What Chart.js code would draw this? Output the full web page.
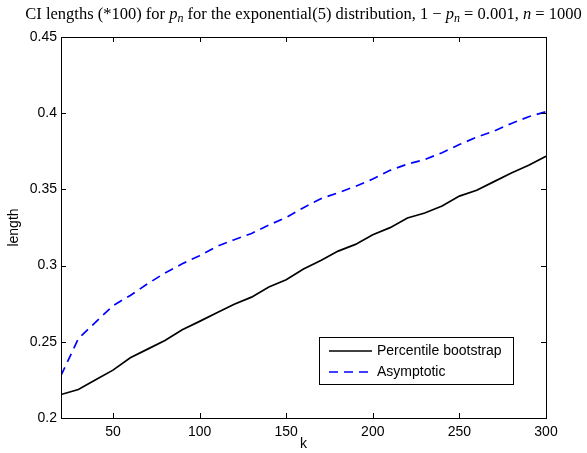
<!DOCTYPE html>
<html>
<head>
<meta charset="utf-8">
<script src="https://cdn.jsdelivr.net/npm/chart.js@4/dist/chart.umd.min.js"></script>
<style>
  html, body { margin: 0; padding: 0; background: #fff; }
  #wrap { width: 587px; height: 453px; }
</style>
</head>
<body>
<div id="wrap"><canvas id="c" width="587" height="453"></canvas></div>
<script>
// k values (number of upper order statistics)
const kValues = [20, 30, 40, 50, 60, 70, 80, 90, 100, 110, 120, 130, 140, 150,
  160, 170, 180, 190, 200, 210, 220, 230, 240, 250, 260, 270, 280, 290, 300];

// CI lengths (*100), percentile bootstrap
const bootstrapLengths = [0.2154, 0.2187, 0.2251, 0.2314, 0.2395, 0.2452, 0.2509, 0.2579,
  0.2634, 0.2690, 0.2747, 0.2793, 0.2859, 0.2907, 0.2977, 0.3034, 0.3095, 0.3139, 0.3203,
  0.3249, 0.3312, 0.3345, 0.3391, 0.3456, 0.3494, 0.3551, 0.3607, 0.3658, 0.3717];

// CI lengths (*100), asymptotic
const asymptoticLengths = [0.2279, 0.2520, 0.2629, 0.2737, 0.2804, 0.2881, 0.2951, 0.3012,
  0.3065, 0.3126, 0.3170, 0.3211, 0.3266, 0.3316, 0.3380, 0.3439, 0.3478, 0.3520, 0.3568,
  0.3625, 0.3666, 0.3696, 0.3741, 0.3794, 0.3843, 0.3883, 0.3933, 0.3977, 0.4010];

const seriesNames = ['Percentile bootstrap', 'Asymptotic'];
const xTicks = [50, 100, 150, 200, 250, 300];
const yTicks = [0.2, 0.25, 0.3, 0.35, 0.4, 0.45];

const sansFont = 'Liberation Sans, Arial, Helvetica, sans-serif';
const serifFont = 'Liberation Serif, Times New Roman, serif';

// Title pieces: plain text, italic math symbols and subscripts
const titleParts = [
  { t: 'CI lengths (*100) for ' },
  { t: 'p', it: true }, { t: 'n', it: true, sub: true },
  { t: ' for the exponential(5) distribution, 1 \u2212 ' },
  { t: 'p', it: true }, { t: 'n', it: true, sub: true },
  { t: ' = 0.001, ' },
  { t: 'n', it: true },
  { t: ' = 1000' }
];

const toPoints = ys => kValues.map((k, i) => ({ x: k, y: ys[i] }));

// Box, inward tick marks, title and legend
const framePlugin = {
  id: 'frame',
  afterDatasetsDraw(chart) {
    const { ctx, chartArea: a, scales } = chart;
    ctx.save();
    ctx.strokeStyle = '#000';
    ctx.lineWidth = 1;
    const tl = 5;
    ctx.beginPath();
    xTicks.forEach(v => {
      const px = Math.round(scales.x.getPixelForValue(v)) + 0.5;
      ctx.moveTo(px, a.bottom); ctx.lineTo(px, a.bottom - tl);
      ctx.moveTo(px, a.top); ctx.lineTo(px, a.top + tl);
    });
    yTicks.forEach(v => {
      const py = Math.round(scales.y.getPixelForValue(v)) + 0.5;
      ctx.moveTo(a.left, py); ctx.lineTo(a.left + tl, py);
      ctx.moveTo(a.right, py); ctx.lineTo(a.right - tl, py);
    });
    ctx.stroke();
    ctx.strokeRect(Math.round(a.left) + 0.5, Math.round(a.top) + 0.5,
      Math.round(a.right - a.left), Math.round(a.bottom - a.top));

    // legend
    const lx = a.right - 227, ly = a.bottom - 81, lw = 194, lh = 47;
    ctx.fillStyle = '#fff';
    ctx.fillRect(lx, ly, lw, lh);
    ctx.strokeRect(lx + 0.5, ly + 0.5, lw, lh);
    ctx.font = '14px ' + sansFont;
    ctx.textBaseline = 'middle';
    chart.data.datasets.forEach((ds, i) => {
      const yy = ly + 14 + i * 21;
      ctx.save();
      ctx.strokeStyle = ds.borderColor;
      ctx.lineWidth = ds.borderWidth;
      ctx.setLineDash(ds.borderDash || []);
      ctx.beginPath();
      ctx.moveTo(lx + 10, yy); ctx.lineTo(lx + 53, yy);
      ctx.stroke();
      ctx.restore();
      ctx.fillStyle = '#000';
      ctx.textAlign = 'left';
      ctx.fillText(ds.label, lx + 58, yy);
    });

    // title
    const base = 19;
    const fs = 16.5;
    const fontFor = p => (p.it ? 'italic ' : '') + (p.sub ? Math.round(fs * 0.72) : fs) + 'px ' + serifFont;
    let total = 0;
    titleParts.forEach(p => { ctx.font = fontFor(p); total += ctx.measureText(p.t).width; });
    let x = (a.left + a.right) / 2 - total / 2;
    ctx.fillStyle = '#000';
    ctx.textAlign = 'left';
    ctx.textBaseline = 'alphabetic';
    titleParts.forEach(p => {
      ctx.font = fontFor(p);
      ctx.fillText(p.t, x, base + (p.sub ? 3 : 0));
      x += ctx.measureText(p.t).width;
    });
    ctx.restore();
  }
};

new Chart(document.getElementById('c'), {
  type: 'line',
  data: {
    datasets: [
      {
        label: seriesNames[0],
        data: toPoints(bootstrapLengths),
        borderColor: '#000000',
        borderWidth: 1.7,
        pointRadius: 0,
        tension: 0,
        fill: false
      },
      {
        label: seriesNames[1],
        data: toPoints(asymptoticLengths),
        borderColor: '#0000ff',
        borderWidth: 1.7,
        borderDash: [9, 6],
        pointRadius: 0,
        tension: 0,
        fill: false
      }
    ]
  },
  options: {
    responsive: false,
    animation: false,
    devicePixelRatio: 1,
    layout: { padding: { top: 37, right: 41, left: 0, bottom: 0 } },
    plugins: { legend: { display: false }, tooltip: { enabled: false }, title: { display: false } },
    scales: {
      x: {
        type: 'linear',
        min: 20,
        max: 300,
        afterBuildTicks: s => { s.ticks = xTicks.map(v => ({ value: v })); },
        afterFit: s => { s.height = 35; },
        grid: { display: false, drawTicks: false },
        border: { display: false },
        ticks: { padding: 6, color: '#000', maxRotation: 0, autoSkip: false,
          font: { family: sansFont, size: 14 } },
        title: { display: true, text: 'k', color: '#000', padding: { top: 0, bottom: 0 },
          font: { family: sansFont, size: 14 } }
      },
      y: {
        type: 'linear',
        min: 0.2,
        max: 0.45,
        afterBuildTicks: s => { s.ticks = yTicks.map(v => ({ value: v })); },
        afterFit: s => { s.width = 61; },
        grid: { display: false, drawTicks: false },
        border: { display: false },
        ticks: { padding: 4, color: '#000', autoSkip: false,
          callback: v => String(+v.toFixed(2)),
          font: { family: sansFont, size: 14 } },
        title: { display: true, text: 'length', color: '#000', padding: { top: 6, bottom: 0 },
          font: { family: sansFont, size: 14 } }
      }
    }
  },
  plugins: [framePlugin]
});
</script>
</body>
</html>
